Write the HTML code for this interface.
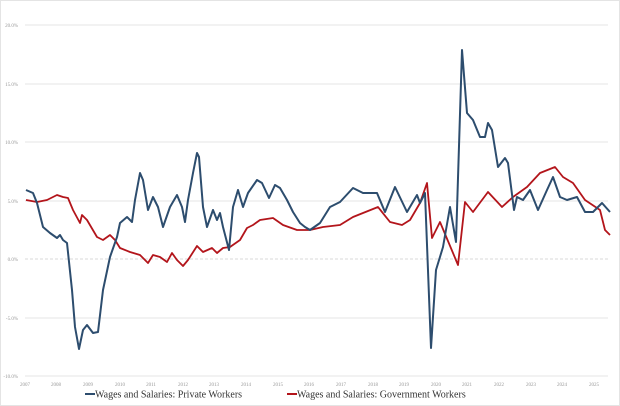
<!DOCTYPE html>
<html><head><style>
body{margin:0;background:#fff;}
svg{display:block;}
</style></head><body>
<svg width="620" height="406" xmlns="http://www.w3.org/2000/svg">
<rect x="0.5" y="0.5" width="619" height="405" fill="#fff" stroke="#e4e4e4"/>
<g stroke="#e6e6e6" stroke-width="1">
<line x1="25" x2="608" y1="25" y2="25"/><line x1="25" x2="608" y1="84" y2="84"/>
<line x1="25" x2="608" y1="142" y2="142"/><line x1="25" x2="608" y1="201" y2="201"/>
<line x1="25" x2="608" y1="259" y2="259" stroke="#d8d8d8" stroke-dasharray="3,2"/><line x1="25" x2="608" y1="318" y2="318"/>
<line x1="25" x2="608" y1="376" y2="376"/>
</g>
<g font-family="Liberation Serif, serif" font-size="5" fill="#999" text-anchor="end">
<text x="18" y="27">20.0%</text><text x="18" y="86">15.0%</text><text x="18" y="144">10.0%</text>
<text x="18" y="203">5.0%</text><text x="18" y="261">0.0%</text><text x="18" y="320">-5.0%</text><text x="18" y="378">-10.0%</text>
</g>
<g font-family="Liberation Serif, serif" font-size="5" fill="#999" text-anchor="middle">
<text x="25" y="386">2007</text><text x="56" y="386">2008</text><text x="88" y="386">2009</text><text x="120" y="386">2010</text>
<text x="151" y="386">2011</text><text x="183" y="386">2012</text><text x="214" y="386">2013</text><text x="246" y="386">2014</text>
<text x="278" y="386">2015</text><text x="309" y="386">2016</text><text x="341" y="386">2017</text><text x="373" y="386">2018</text>
<text x="404" y="386">2019</text><text x="436" y="386">2020</text><text x="467" y="386">2021</text><text x="499" y="386">2022</text>
<text x="531" y="386">2023</text><text x="562" y="386">2024</text><text x="594" y="386">2025</text>
</g>
<polyline fill="none" stroke="#b3151b" stroke-width="1.8" stroke-linejoin="round" points="26,200 37,202 47,200 57,195 63,197 68,198 73,210 80,223 82,215 87,220 97,237 103,240 110,235 115,240 120,248 130,252 140,255 148,263 153,255 160,257 167,262 172,253 177,260 183,266 188,260 197,246 203,252 212,248 217,253 223,248 230,247 240,240 247,228 253,225 260,220 273,218 283,225 297,230 310,230 323,227 340,225 353,217 363,213 378,207 390,222 402,225 410,220 420,203 427,183 432,238 440,222 453,253 458,265 465,202 473,212 488,192 502,207 513,197 527,187 540,173 555,167 563,177 573,183 585,200 600,210 605,230 610,235"/>
<polyline fill="none" stroke="#2d4d6e" stroke-width="2" stroke-linejoin="round" points="26,190 33,193 37,203 43,227 50,233 57,238 60,235 63,240 67,243 72,290 75,327 79,349 83,330 87,325 93,333 98,332 103,290 110,257 117,237 120,223 127,217 132,222 135,200 140,173 143,180 148,210 153,197 158,207 163,227 170,207 177,195 182,207 185,222 188,200 193,173 197,153 199,157 203,207 207,227 213,210 217,220 220,213 223,227 229,250 233,207 238,190 243,207 248,193 257,180 262,183 269,198 275,185 280,188 287,200 293,212 300,223 305,227 310,230 320,223 330,207 340,202 353,188 363,193 377,193 385,212 395,187 407,212 417,195 420,203 425,193 431,348 436,270 443,247 450,207 456,242 462,50 467,113 473,120 480,137 485,137 488,123 492,130 498,167 505,158 508,163 514,210 517,197 523,200 530,190 538,210 547,190 553,177 560,197 567,200 577,197 585,212 593,212 602,203 610,212"/>
<g font-family="Liberation Serif, serif" font-size="10" fill="#333">
<line x1="85" x2="95" y1="394" y2="394" stroke="#2d4d6e" stroke-width="2"/>
<text x="95" y="397.5">Wages and Salaries: Private Workers</text>
<line x1="287" x2="297" y1="394" y2="394" stroke="#b3151b" stroke-width="2"/>
<text x="297" y="397.5">Wages and Salaries: Government Workers</text>
</g>
</svg>
</body></html>
